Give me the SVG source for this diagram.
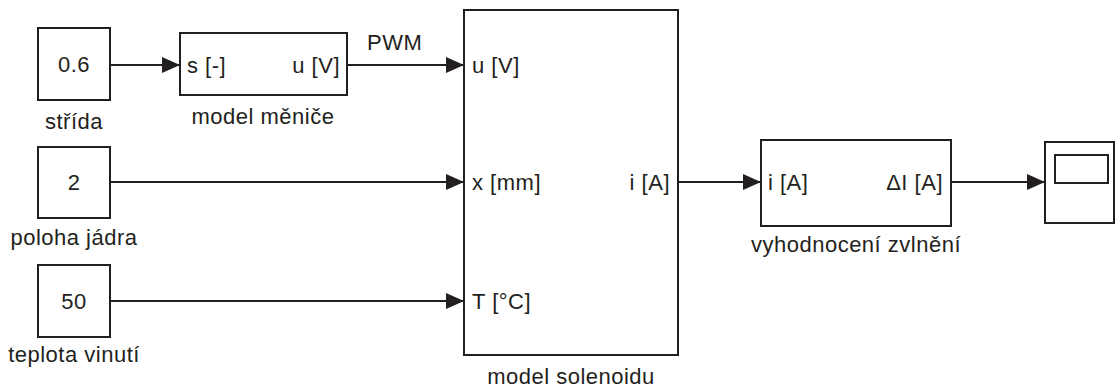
<svg xmlns="http://www.w3.org/2000/svg" width="1116" height="389" viewBox="0 0 1116 389">
<style>
.b{fill:#fff;stroke:#231f20;stroke-width:2}
.t{font-family:"Liberation Sans",Arial,sans-serif;font-size:22px;letter-spacing:0.5px;fill:#231f20}
.m{text-anchor:middle}
.e{text-anchor:end}
.c{stroke:#231f20;stroke-width:2;fill:none}
</style>
<defs>
<marker id="a" markerWidth="18" markerHeight="16" refX="18" refY="8" orient="auto" markerUnits="userSpaceOnUse" viewBox="0 0 18 16">
<path d="M0,0 L18,8 L0,16 Z" fill="#231f20"/>
</marker>
</defs>
<rect width="1116" height="389" fill="#fff"/>
<g id="connectors">
<line class="c" x1="110" y1="65" x2="180" y2="65" marker-end="url(#a)"/>
<line class="c" x1="347" y1="65" x2="464" y2="65" marker-end="url(#a)"/>
<text class="t" x="367" y="50">PWM</text>
<line class="c" x1="110" y1="182" x2="464" y2="182" marker-end="url(#a)"/>
<line class="c" x1="110" y1="301" x2="464" y2="301" marker-end="url(#a)"/>
<line class="c" x1="678" y1="182" x2="761" y2="182" marker-end="url(#a)"/>
<line class="c" x1="951" y1="182" x2="1045" y2="182" marker-end="url(#a)"/>
</g>
<g id="strida">
<rect class="b" x="38" y="28" width="72" height="72"/>
<text class="t m" x="74" y="72">0.6</text>
<text class="t m" x="74" y="129">střída</text>
</g>
<g id="poloha">
<rect class="b" x="38" y="147" width="72" height="71"/>
<text class="t m" x="74" y="190">2</text>
<text class="t m" x="74" y="245">poloha jádra</text>
</g>
<g id="teplota">
<rect class="b" x="38" y="265" width="72" height="72"/>
<text class="t m" x="74" y="309">50</text>
<text class="t m" x="74" y="362">teplota vinutí</text>
</g>
<g id="menic">
<rect class="b" x="180" y="33" width="167" height="62"/>
<text class="t" x="187" y="73">s [-]</text>
<text class="t e" x="340" y="73">u [V]</text>
<text class="t m" x="263" y="124">model měniče</text>
</g>
<g id="solenoid">
<rect class="b" x="464" y="10" width="214" height="345"/>
<text class="t" x="472" y="73">u [V]</text>
<text class="t" x="472" y="190">x [mm]</text>
<text class="t e" x="670" y="190">i [A]</text>
<text class="t" x="472" y="309">T [°C]</text>
<text class="t m" x="571" y="384">model solenoidu</text>
</g>
<g id="zvlneni">
<rect class="b" x="761" y="140" width="190" height="86"/>
<text class="t" x="768" y="190">i [A]</text>
<text class="t e" x="943" y="190">ΔI [A]</text>
<text class="t m" x="856" y="252">vyhodnocení zvlnění</text>
</g>
<g id="scope">
<rect class="b" x="1045" y="142" width="69" height="81"/>
<rect class="b" x="1055" y="155" width="53" height="28"/>
</g>
</svg>
